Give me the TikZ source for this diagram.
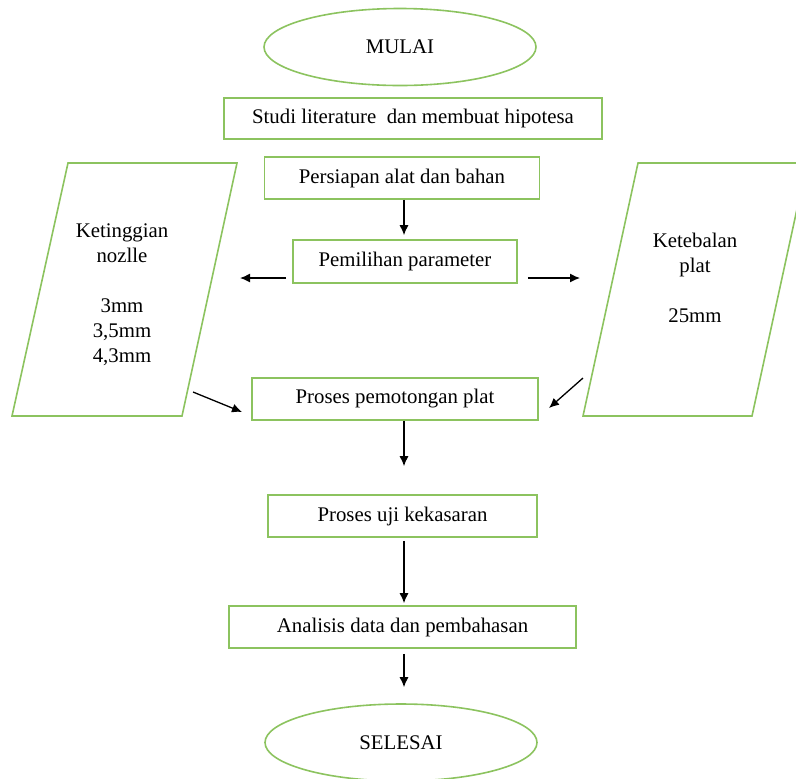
\documentclass[tikz,border=0pt]{standalone}
\usepackage{fontspec}
\setmainfont{Liberation Serif}
\usetikzlibrary{shapes.geometric, arrows.meta}
\definecolor{hijau}{RGB}{140,195,95}
\begin{document}
\begin{tikzpicture}[x=0.5pt, y=-0.5pt,
	kotak/.style={draw=hijau, line width=0.8pt, rectangle, inner sep=0pt, font=\fontsize{10.4}{12.5}\selectfont},
	oval/.style={draw=hijau, line width=0.8pt, ellipse, inner sep=0pt, minimum width=136pt, minimum height=38.5pt, font=\fontsize{10.4}{12.5}\selectfont},
	isi/.style={align=center, inner sep=0pt, font=\fontsize{10.4}{12.5}\selectfont},
	panah/.style={line width=0.65pt, ->, >={Latex[length=5pt, width=4.5pt]}}]
	\useasboundingbox (0,0) rectangle (796,778);
	
	\node[oval] (mulai) at (400,47) {MULAI};
	\node[kotak, minimum width=189pt, minimum height=20.5pt] (studi) at (413,118.5) {Studi literature\ \ dan membuat hipotesa};
	\node[kotak, minimum width=137.5pt, minimum height=21pt] (persiapan) at (402,178) {Persiapan alat dan bahan};
	\node[kotak, minimum width=112pt, minimum height=21.5pt] (pemilihan) at (405,261.5) {Pemilihan parameter};
	\node[kotak, minimum width=143pt, minimum height=21pt] (pemotongan) at (395,399) {Proses pemotongan plat};
	\node[kotak, minimum width=134.5pt, minimum height=21pt] (uji) at (402.5,516) {Proses uji kekasaran};
	\node[kotak, minimum width=173.5pt, minimum height=21pt] (analisis) at (402.5,627) {Analisis data dan pembahasan};
	\node[oval] (selesai) at (401,742.5) {SELESAI};
	
	%parameter kiri
	\draw[hijau, line width=0.8pt] (68,163) -- (237,163) -- (182,416) -- (12,416) -- cycle;
	\node[isi] (nozlle) at (122,294.5) {Ketinggian\\nozlle\\[12.5pt]3mm\\3,5mm\\4,3mm};
	%parameter kanan
	\draw[hijau, line width=0.8pt] (638,163) -- (807,163) -- (752,416) -- (583,416) -- cycle;
	\node[isi] (plat) at (695,277.5) {Ketebalan\\plat\\[12.5pt]25mm};
	
	\coordinate (sumbu) at (404,0);
	\coordinate (kiri) at (240,278);
	\coordinate (kanan) at (580,278);
	\coordinate (A) at (193,392);
	\coordinate (B) at (242,412);
	\coordinate (C) at (583,378);
	\coordinate (D) at (549,408);
	
	\draw[panah, shorten >=2pt] (persiapan.south -| sumbu) -- (pemilihan.north -| sumbu);
	\draw[panah] ([xshift=-3pt]pemilihan.west |- kiri) -- (kiri);
	\draw[panah] ([xshift=5pt]pemilihan.east |- kanan) -- (kanan);
	\draw[panah] (A) -- (B);
	\draw[panah] (C) -- (D);
	\draw[panah, shorten >=14pt] (pemotongan.south -| sumbu) -- (uji.north -| sumbu);
	\draw[panah, shorten <=1.5pt, shorten >=1pt] (uji.south -| sumbu) -- (analisis.north -| sumbu);
	\draw[panah, shorten <=2.5pt, shorten >=8pt] (analisis.south -| sumbu) -- (selesai.north -| sumbu);
\end{tikzpicture}
\end{document}
